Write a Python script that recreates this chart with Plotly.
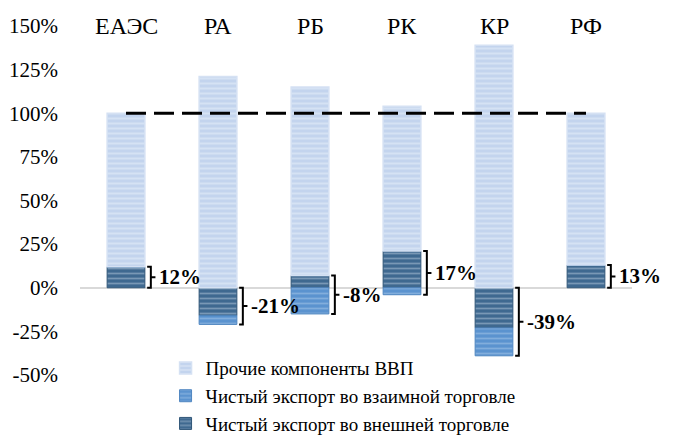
import plotly.graph_objects as go

categories = ['ЕАЭС', 'РА', 'РБ', 'РК', 'КР', 'РФ']
other_gdp = [88, 121, 108, 83, 139, 87]        # Прочие компоненты ВВП
mutual_export = [0, -5, -15, -4, -16, 0]        # Чистый экспорт во взаимной торговле
external_export = [12, -16, 7, 21, -23, 13]     # Чистый экспорт во внешней торговле
net_labels = ['12%', '-21%', '-8%', '17%', '-39%', '13%']
baseline = [100, 100, 100, 100, 100, 100]
y_ticks = [-50, -25, 0, 25, 50, 75, 100, 125, 150]
y_ticktext = ['-50%', '-25%', '0%', '25%', '50%', '75%', '100%', '125%', '150%']

font_name = 'Liberation Serif'
colors = {
    'other': '#c3d4ee', 'other_fg': '#e8eff9', 'other_line': '#d5e1f3',
    'mutual': '#5b93cf', 'mutual_fg': '#a9c9ea', 'mutual_line': '#4f86c0',
    'external': '#3f6990', 'external_fg': '#b4c7da', 'external_line': '#2f5577',
}

x = list(range(len(categories)))
bar_w = 0.41

fig = go.Figure()
fig.add_trace(go.Bar(
    x=x, y=external_export, width=bar_w, name='Чистый экспорт во внешней торговле',
    marker=dict(color=colors['external'], line=dict(color=colors['external_line'], width=1),
                pattern=dict(shape='-', fgcolor=colors['external_fg'], size=5, solidity=0.35)),
))
fig.add_trace(go.Bar(
    x=x, y=mutual_export, width=bar_w, name='Чистый экспорт во взаимной торговле',
    marker=dict(color=colors['mutual'], line=dict(color=colors['mutual_line'], width=1),
                pattern=dict(shape='-', fgcolor=colors['mutual_fg'], size=5, solidity=0.35)),
))
fig.add_trace(go.Bar(
    x=x, y=other_gdp, width=bar_w, name='Прочие компоненты ВВП',
    marker=dict(color=colors['other'], line=dict(color=colors['other_line'], width=1.5),
                pattern=dict(shape='-', fgcolor=colors['other_fg'], size=5, solidity=0.4)),
))

# dashed 100% line
fig.add_trace(go.Scatter(x=x, y=baseline, mode='lines', showlegend=False, hoverinfo='skip',
                         line=dict(color='black', width=3, dash='20px,8px')))

# brackets around net export + labels
bx, by = [], []
for i in x:
    pos = sum(v for v in (external_export[i], mutual_export[i]) if v > 0)
    neg = sum(v for v in (external_export[i], mutual_export[i]) if v < 0)
    mid = (pos + neg) / 2
    x0, x1, x2 = i + 0.23, i + 0.27, i + 0.32
    bx += [x0, x1, x1, x2, x1, x1, x0, None]
    by += [pos, pos, mid, mid, mid, neg, neg, None]
    fig.add_annotation(x=i + 0.34, y=mid, text='<b>' + net_labels[i] + '</b>', showarrow=False,
                       xanchor='left', yanchor='middle',
                       font=dict(family=font_name, size=21, color='black'))
    fig.add_annotation(x=i, y=150, text=categories[i], showarrow=False,
                       xanchor='center', yanchor='middle',
                       font=dict(family=font_name, size=24, color='black'))
fig.add_trace(go.Scatter(x=bx, y=by, mode='lines', showlegend=False, hoverinfo='skip',
                         line=dict(color='black', width=2)))

fig.update_layout(
    barmode='relative',
    width=673, height=437,
    margin=dict(l=80, r=41, t=26, b=62, autoexpand=False),
    paper_bgcolor='white', plot_bgcolor='white',
    font=dict(family=font_name, color='black', size=19),
    legend=dict(x=0.155, y=0.074, xanchor='left', yanchor='top', traceorder='reversed',
                bgcolor='rgba(0,0,0,0)', font=dict(family=font_name, size=19), tracegroupgap=0),
    xaxis=dict(range=[-0.5, 5.5], showticklabels=False, showgrid=False, zeroline=False,
               showline=False, ticks=''),
    yaxis=dict(range=[-50, 150], tickvals=y_ticks, ticktext=y_ticktext,
               showgrid=False, zeroline=True, zerolinecolor='#d9d9d9',
               zerolinewidth=1.5, showline=False, ticklabelstandoff=21,
               tickfont=dict(family=font_name, size=21)),
)

fig.write_html('out.html', config={'displayModeBar': False},
               post_script="document.body.style.margin='0';")
